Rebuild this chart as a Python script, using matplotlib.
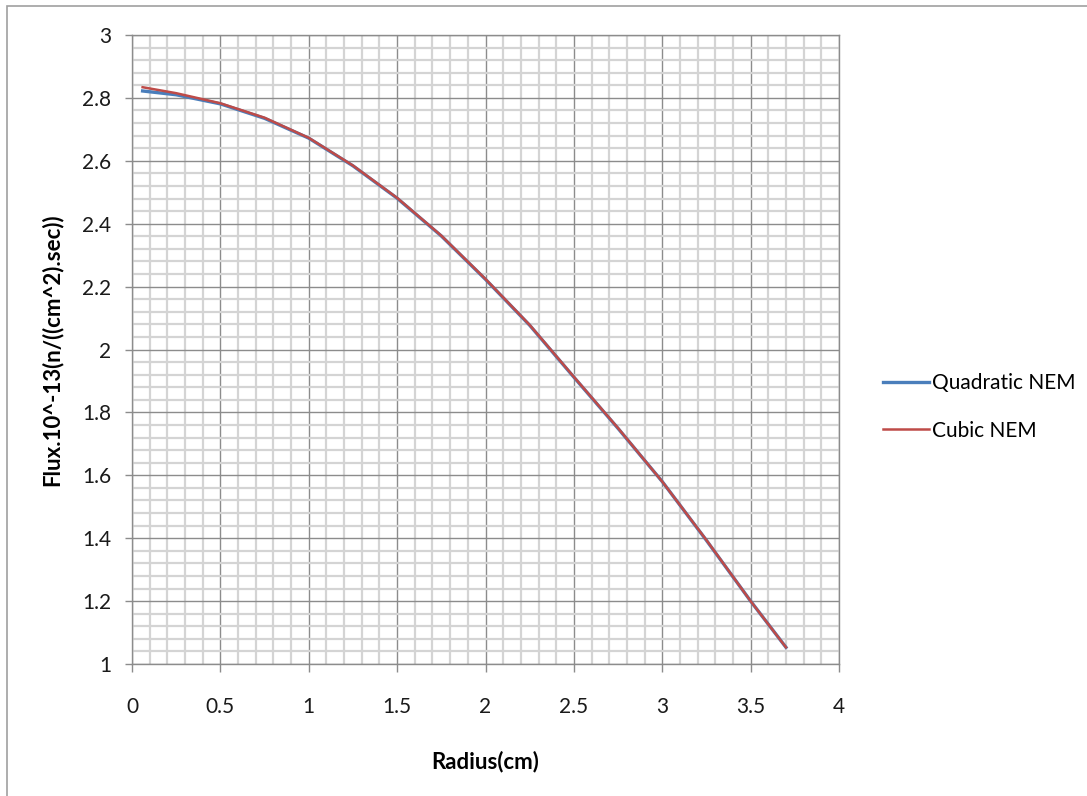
import numpy as np
import matplotlib
matplotlib.use("Agg")
import matplotlib.pyplot as plt
from matplotlib.patches import Rectangle
from matplotlib.ticker import MultipleLocator

plt.rcParams['font.family'] = ['Lato', 'DejaVu Sans']

# Radius positions (cm) and flux values for both nodal expansion methods
radius = [0.06, 0.25, 0.5, 0.75, 1.0, 1.25, 1.5, 1.75, 2.0, 2.25,
          2.5, 2.75, 3.0, 3.25, 3.5, 3.7]
flux_quadratic = [2.822, 2.810, 2.781, 2.735, 2.672, 2.584, 2.481, 2.361, 2.223, 2.077,
                  1.912, 1.749, 1.580, 1.393, 1.200, 1.053]
flux_cubic = [2.834, 2.815, 2.783, 2.737, 2.673, 2.585, 2.482, 2.362, 2.224, 2.078,
              1.913, 1.750, 1.580, 1.394, 1.200, 1.053]

x_ticks = [0, 0.5, 1, 1.5, 2, 2.5, 3, 3.5, 4]
y_ticks = [1, 1.2, 1.4, 1.6, 1.8, 2, 2.2, 2.4, 2.6, 2.8, 3]

W, H = 1087, 796
fig = plt.figure(figsize=(W / 100, H / 100), dpi=100)
fig.patch.set_facecolor('white')

# outer chart border
fig.patches.append(Rectangle((7 / W, -0.1), 1.2, 1 - 6 / H + 0.1,
                             transform=fig.transFigure, fill=False,
                             edgecolor='#a0a0a0', linewidth=1.2))

ax = fig.add_axes([132 / W, 1 - 664 / H, 707 / W, 629 / H])

ax.plot(radius, flux_quadratic, color='#4a7ebb', linewidth=2.4, label='Quadratic NEM', zorder=3)
ax.plot(radius, flux_cubic, color='#be4b48', linewidth=1.8, label='Cubic NEM', zorder=4)

ax.set_xlim(0, 4)
ax.set_ylim(1, 3)
ax.set_xticks(x_ticks)
ax.set_xticklabels([f'{v:g}' for v in x_ticks])
ax.set_yticks(y_ticks)
ax.set_yticklabels([f'{v:g}' for v in y_ticks])
ax.xaxis.set_minor_locator(MultipleLocator(0.1))
ax.yaxis.set_minor_locator(MultipleLocator(0.04))

ax.grid(which='minor', color='#d4d4d4', linewidth=1.6, zorder=0)
ax.grid(which='major', color='#8c8c8c', linewidth=1.0, zorder=1)
ax.set_axisbelow(True)

for s in ax.spines.values():
    s.set_color('#8c8c8c')
    s.set_linewidth(1.0)

ax.tick_params(axis='x', which='major', length=6, width=1, color='#8c8c8c',
               pad=18, labelsize=15, labelcolor='#1a1a1a')
ax.tick_params(axis='y', which='major', length=5, width=1, color='#8c8c8c',
               pad=10, labelsize=15, labelcolor='#1a1a1a')
ax.tick_params(which='minor', length=0)

ax.set_xlabel('Radius(cm)', fontsize=16, fontweight='bold', labelpad=24)
ax.set_ylabel('Flux.10^-13(n/((cm^2).sec))', fontsize=16, fontweight='bold', labelpad=14)

fig.legend(loc='center left', bbox_to_anchor=(864 / W, 1 - 407 / H), frameon=False,
           fontsize=15, handlelength=2.2, handletextpad=0.15, labelspacing=1.3)

fig.savefig('out.png', dpi=100)
